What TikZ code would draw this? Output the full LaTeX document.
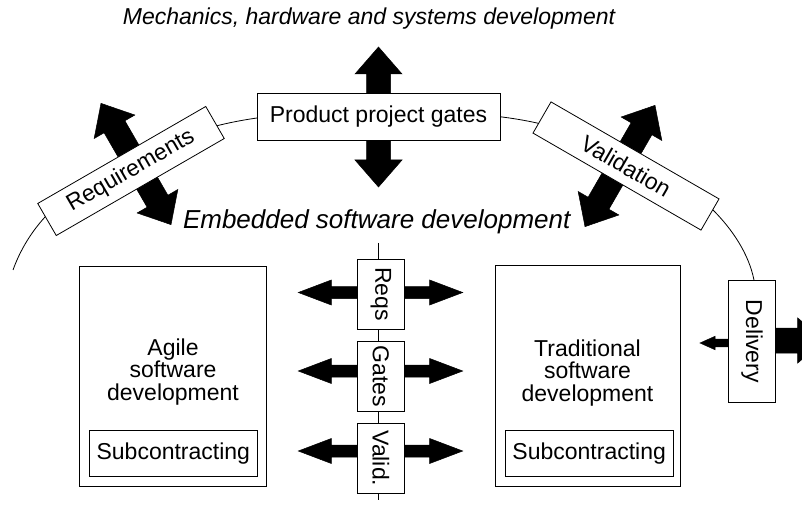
\documentclass[tikz,border=0pt]{standalone}
\usepackage{fontspec}
\setmainfont{Liberation Sans}
\pgfdeclarelayer{bg}
\pgfsetlayers{bg,main}
\newcommand\DArr[6]{% center, angle, half length, half shaft, half head, head length
  \begin{scope}[shift={#1},rotate=#2]
    \filldraw[arrowfill] (-#3,0) -- ({-#3+#6},#5) -- ({-#3+#6},#4) -- ({#3-#6},#4) -- ({#3-#6},#5) -- (#3,0)
      -- ({#3-#6},-#5) -- ({#3-#6},-#4) -- ({-#3+#6},-#4) -- ({-#3+#6},-#5) -- cycle;
  \end{scope}}
\newcommand\SArr[6]{% tail, angle, length, half shaft, half head, head length
  \begin{scope}[shift={#1},rotate=#2]
    \filldraw[arrowfill] (0,-#4) -- ({#3-#6},-#4) -- ({#3-#6},-#5) -- (#3,0) -- ({#3-#6},#5) -- ({#3-#6},#4) -- (0,#4) -- cycle;
  \end{scope}}
\tikzset{
  fs/.style={font=\fontsize{23}{22.5}\selectfont},
  box/.style={draw, fill=white, line width=0.8pt, inner sep=0pt, align=center, fs},
  plain/.style={inner sep=0pt, align=center, fs},
  arrowfill/.style={fill=black, draw=black, line width=0.5pt, line join=miter},
  linkline/.style={line width=0.8pt}
}
\begin{document}
\begin{tikzpicture}[x=1pt,y=-1pt]
\useasboundingbox (0,0) rectangle (802,510);

% texts
\node[plain, anchor=base, font=\fontsize{23}{26}\selectfont\itshape] (title) at (369,24.8) {Mechanics, hardware and systems development};
\node[plain, anchor=base, font=\fontsize{26}{28}\selectfont\itshape] (emb) at (376.7,228.5) {Embedded software development};

% gate boxes
\node[box, minimum width=243pt, minimum height=47pt] (pg) at (378.5,116.7) {Product project gates};
\node[box, rotate=30, minimum width=194pt, minimum height=37pt] (req) at (131,171) {Requirements};
\node[box, rotate=-30, minimum width=194pt, minimum height=36pt] (val) at (626,166) {Validation};

% central column
\node[box, rotate=-90, minimum width=70pt, minimum height=47pt] (rq) at (380.8,294.2) {Reqs};
\node[box, rotate=-90, minimum width=70pt, minimum height=47pt] (gt) at (380.8,376) {Gates};
\node[box, rotate=-90, minimum width=70pt, minimum height=47pt] (vd) at (380.8,458.3) {Valid.};

% agile
\node[box, minimum width=187.4pt, minimum height=220.7pt] (ag) at (173,376.3) {};
\node[plain] (agt) at (173,372) {Agile\\software\\development};
\node[box, minimum width=168pt, minimum height=46.7pt] (ags) at (173.3,453.3) {Subcontracting};

% traditional
\node[box, minimum width=185pt, minimum height=221.7pt] (tr) at (587.5,375.8) {};
\node[plain] (trt) at (587.5,373) {Traditional\\software\\development};
\node[box, minimum width=168.3pt, minimum height=46.7pt] (trs) at (589.2,453.3) {Subcontracting};

% delivery
\node[box, rotate=-90, minimum width=121.4pt, minimum height=47.4pt] (dl) at (752,341.2) {Delivery};

\begin{pgfonlayer}{bg}
  \clip (0,0) rectangle (802,510);
  \coordinate (cs) at (13,270);
  \coordinate (lt) at (378.3,243);
  \coordinate (lb) at (378.3,500);
  \draw[linkline] (cs)
     .. controls (20.1,250.3) and (30.9,232.5) .. (45,217)
     .. controls (89.2,168.2) and (155.8,140.4) .. (220,125)
     .. controls (270,113) and (320,112) .. (378,112)
     .. controls (436,112) and (487,112) .. (537,123)
     .. controls (600.5,137) and (667,164) .. (713,210)
     .. controls (732,229) and (748.7,253.5) .. ([xshift=2pt]dl.west);
  \draw[linkline] (lt) -- (lb);
  % big double arrows
  \DArr{(378.5,117)}{90}{70}{12}{23.5}{27}
  \DArr{(136,164)}{120}{70}{12}{23.5}{27}
  \DArr{(620,166)}{60}{70}{12}{23.5}{27}
  % horizontal double arrows
  \DArr{(380.5,292.5)}{0}{82.2}{6}{12.5}{33}
  \DArr{(380.5,371)}{0}{82.2}{6}{12.5}{33}
  \DArr{(380.5,451)}{0}{82.2}{6}{12.5}{33}
  % delivery arrows
  \SArr{(728.3,343)}{180}{28.3}{3.8}{6.7}{15}
  \SArr{(775.7,340.5)}{0}{49}{12.5}{22.5}{27}
\end{pgfonlayer}
\end{tikzpicture}
\end{document}
